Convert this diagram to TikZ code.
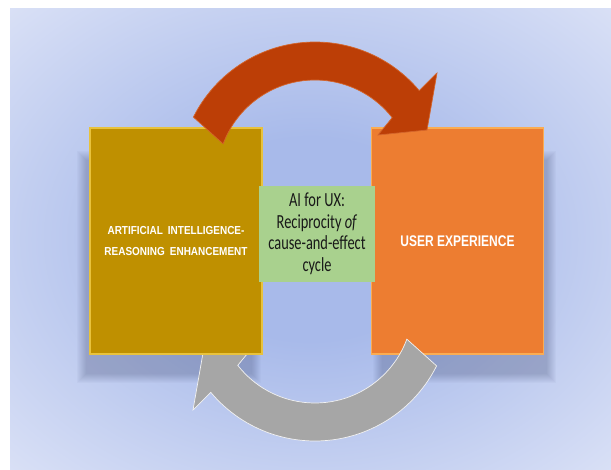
\documentclass[tikz,border=0pt]{standalone}
\usepackage{fontspec}
\setmainfont{Liberation Sans}
\newfontfamily\panelfont[FakeStretch=0.86]{Liberation Sans}
\newfontfamily\titlefont[FakeStretch=0.78]{Liberation Sans}
\newfontfamily\calib[FakeStretch=0.72]{Carlito}
\usetikzlibrary{calc}

\definecolor{bgin}{RGB}{168,186,234}
\definecolor{bgout}{RGB}{222,228,247}
\definecolor{gold}{RGB}{191,144,0}
\definecolor{goldlite}{RGB}{232,194,60}
\definecolor{orng}{RGB}{237,125,49}
\definecolor{ornglite}{RGB}{250,172,82}
\definecolor{leaf}{RGB}{169,209,142}
\definecolor{rust}{RGB}{188,62,6}
\definecolor{rustlite}{RGB}{236,140,80}
\definecolor{ash}{RGB}{166,166,166}
\definecolor{shadowink}{RGB}{60,70,110}

\pgfdeclareradialshading{bgglow}{\pgfpoint{0bp}{0bp}}{%
  color(0bp)=(bgin); color(11bp)=(bgin); color(38bp)=(bgout); color(50bp)=(bgout)}

\tikzset{
  panel/.style={minimum width=172pt, minimum height=226pt, inner sep=0pt,
    line width=1.6pt, text=white, align=center},
  caption/.style={fill=leaf, minimum width=116pt, minimum height=96pt,
    inner sep=0pt, align=center, text=black!90,
    font=\fontsize{20}{21.5}\calib},
  bend arrow/.style={line width=0.7pt, line join=miter},
}

% curved block arrow, drawn around its own centre
\newcommand\cyclearrow{%
  (153.4:136) arc[start angle=153.4, end angle=40, radius=136]
  -- (122,105) -- (112,48) -- (63,43)
  -- (38:98) arc[start angle=38, end angle=159.6, radius=98] -- cycle}

\begin{document}
\begin{tikzpicture}[x=1pt,y=1pt]
\useasboundingbox (0,0) rectangle (611,469);
\fill[white] (0,0) rectangle (611,469);
\shade[shading=bgglow] (10,0) rectangle (611,460);

% soft drop shadows of the two panels
\foreach \k in {0,1,...,9}{
  \fill[shadowink, opacity=0.03]
    (86-\k,95-\k) rectangle (252+\k,318+\k-9);
  \fill[shadowink, opacity=0.03]
    (382-\k,95-\k) rectangle (547+\k,318+\k-9);
}

% right panel
\node[panel, fill=orng, draw=ornglite,
      font=\fontsize{15.4}{18}\titlefont\bfseries] (ux) at (457.5,228)
  {USER EXPERIENCE};

% lower return arrow
\begin{scope}[shift={(315,164)}, rotate=180]
  \filldraw[bend arrow, fill=ash, draw=white!85!ash] \cyclearrow;
\end{scope}

% left panel
\node[panel, fill=gold, draw=goldlite,
      font=\fontsize{11.6}{20.5}\panelfont\bfseries] (ai) at (176,228)
  {ARTIFICIAL\hspace{5pt}INTELLIGENCE-\\ REASONING\hspace{5pt}ENHANCEMENT};

% upper forward arrow
\begin{scope}[shift={(315,291)}]
  \filldraw[bend arrow, fill=rust, draw=rustlite!50!rust] \cyclearrow;
\end{scope}

% central caption
\node[caption] (cycle) at (317,235)
  {AI for UX:\\ Reciprocity \textit{of}\\ cause-and-effect\\ cycle};
\end{tikzpicture}
\end{document}
